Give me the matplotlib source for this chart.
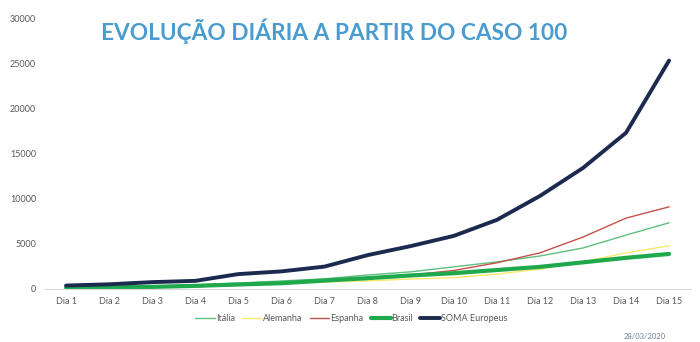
import matplotlib
matplotlib.use("Agg")
import matplotlib.pyplot as plt

# Confirmed cases per day, counted from each country's 100th case
dias = [f"Dia {i}" for i in range(1, 16)]
italia = [155, 229, 322, 453, 655, 888, 1128, 1550, 1900, 2450, 3000, 3650, 4540, 5970, 7330]
alemanha = [130, 159, 196, 262, 400, 600, 780, 900, 1100, 1250, 1650, 2200, 3000, 4000, 4780]
espanha = [120, 165, 222, 259, 400, 600, 850, 1150, 1550, 2050, 2900, 4000, 5750, 7850, 9100]
brasil = [150, 200, 234, 346, 500, 640, 930, 1200, 1500, 1750, 2100, 2450, 2950, 3450, 3880]
soma = [380, 520, 760, 900, 1650, 1950, 2480, 3750, 4750, 5880, 7650, 10300, 13400, 17300, 25300]
yticks = [0, 5000, 10000, 15000, 20000, 25000, 30000]

series = [
    ("Itália", italia, "#5fbf7f", 1.0),
    ("Alemanha", alemanha, "#f7ea6a", 1.0),
    ("Espanha", espanha, "#c9504a", 1.0),
    ("Brasil", brasil, "#1fa84c", 3.0),
    ("SOMA Europeus", soma, "#1b2a4e", 2.8),
]

plt.rcParams["font.family"] = ["Lato", "DejaVu Sans"]

fig = plt.figure(figsize=(7.0, 3.42), dpi=100)
ax = fig.add_axes([0.0636, 0.155, 0.923, 0.792])

x = range(len(dias))
for name, vals, color, lw in series:
    ax.plot(x, vals, color=color, lw=lw, label=name, solid_capstyle="round")

ax.set_xlim(-0.5, len(dias) - 0.5)
ax.set_ylim(0, 30000)
ax.set_xticks(list(x))
ax.set_xticklabels(dias, fontsize=6.5, color="#595959")
ax.set_yticks(yticks)
ax.set_yticklabels([str(v) for v in yticks], fontsize=6.5, color="#595959")
ax.tick_params(length=0, pad=6)
for side in ("top", "right", "left"):
    ax.spines[side].set_visible(False)
ax.spines["bottom"].set_color("#d9d9d9")
ax.spines["bottom"].set_linewidth(0.8)

ax.legend(loc="center", bbox_to_anchor=(0.475, -0.11), ncol=5, frameon=False,
          fontsize=6.5, handlelength=2.2, handletextpad=0.1, columnspacing=0.8,
          labelcolor="#595959")

fig.text(0.477, 0.91, "EVOLUÇÃO DIÁRIA A PARTIR DO CASO 100", ha="center", va="center",
         fontsize=16.3, fontweight="bold", color="#4a9ccf")
fig.text(0.921, 0.005, "28/03/2020", ha="center", va="bottom", fontsize=5.5, color="#6f7f9f")

fig.savefig("out.png", dpi=100)
